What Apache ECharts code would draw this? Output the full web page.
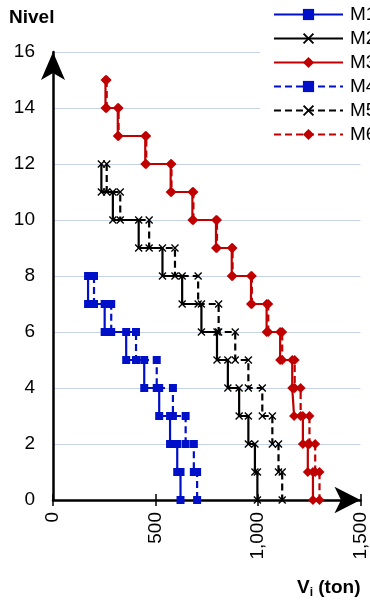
<!DOCTYPE html>
<html>
<head>
<meta charset="utf-8">
<script src="https://cdn.jsdelivr.net/npm/echarts@6/dist/echarts.min.js"></script>
<style>
html,body{margin:0;padding:0;background:#fff;}
#chart{width:370px;height:602px;}
</style>
</head>
<body>
<div id="chart"></div>
<script>
// Story shear V_i (ton), listed from level 1 (bottom) upwards
const seriesNames = ['M1', 'M2', 'M3', 'M4', 'M5', 'M6'];
const m1 = [622, 606, 571, 518, 445, 357, 252, 171];
const m2 = [997, 985, 953, 908, 853, 800, 724, 630, 534, 418, 292, 236];
const m3 = [1268, 1243, 1219, 1176, 1167, 1108, 1042, 966, 872, 795, 680, 574, 450, 316, 256];
const m4 = [703, 687, 647, 585, 506, 405, 284, 200];
const m5 = [1118, 1100, 1070, 1021, 953, 889, 808, 708, 595, 469, 328, 262];
const m6 = [1300, 1279, 1251, 1208, 1179, 1118, 1050, 970, 876, 800, 685, 578, 455, 320, 262];
const xTicks = [0, 500, 1000, 1500];
const yTicks = [0, 2, 4, 6, 8, 10, 12, 14, 16];

function stepPoints(v) {
  const pts = [];
  for (let k = v.length; k >= 1; k--) {
    pts.push([v[k - 1], k]);
    pts.push([v[k - 1], k - 1]);
  }
  return pts;
}

const BLUE = '#0010c8', BLACK = '#000000', RED = '#c00000';
const CROSS = 'path://M0,1.2L1.2,0L5,3.8L8.8,0L10,1.2L6.2,5L10,8.8L8.8,10L5,6.2L1.2,10L0,8.8L3.8,5Z';
const styles = [
  {data: m1, color: BLUE, symbol: 'rect', size: 8, dash: 'solid'},
  {data: m2, color: BLACK, symbol: CROSS, size: 8, dash: 'solid'},
  {data: m3, color: RED, symbol: 'diamond', size: 10, dash: 'solid'},
  {data: m4, color: BLUE, symbol: 'rect', size: 8, dash: [7, 4]},
  {data: m5, color: BLACK, symbol: CROSS, size: 8, dash: [7, 4]},
  {data: m6, color: RED, symbol: 'diamond', size: 10, dash: [7, 4]}
];

const FONT = 'Liberation Sans, Arial, sans-serif';
const chart = echarts.init(document.getElementById('chart'), null, {renderer: 'canvas'});

const series = styles.map((s, i) => ({
  name: seriesNames[i],
  type: 'line',
  data: stepPoints(s.data),
  symbol: s.symbol,
  symbolSize: s.size,
  showAllSymbol: true,
  animation: false,
  itemStyle: {color: s.color},
  lineStyle: {color: s.color, width: 2.2, type: s.dash},
  z: 3
}));

const option = {
  animation: false,
  backgroundColor: '#fff',
  grid: {left: 53, right: 7, top: 52, bottom: 102, containLabel: false},
  xAxis: [{
    type: 'value', min: 0, max: 1500, interval: 500,
    axisLine: {show: true, lineStyle: {color: '#000', width: 2.5}, symbol: ['none', 'arrow'], symbolSize: [20, 26], symbolOffset: [0, 0]},
    axisTick: {show: true, length: 6, lineStyle: {color: '#000', width: 1.5}},
    axisLabel: {rotate: 90, margin: 12, fontSize: 19, color: '#000', fontFamily: FONT,
      formatter: v => xTicks.indexOf(v) >= 0 ? v.toLocaleString('en-US') : ''},
    splitLine: {show: false}
  }, {
    type: 'value', min: 0, max: 1500, interval: 500, position: 'bottom',
    axisLine: {show: false},
    axisTick: {show: true, inside: true, length: 6, lineStyle: {color: '#000', width: 1.5}},
    axisLabel: {show: false},
    splitLine: {show: false}
  }],
  yAxis: {
    type: 'value', min: 0, max: 16, interval: 2,
    axisLine: {show: true, lineStyle: {color: '#000', width: 2.5}, symbol: ['none', 'arrow'], symbolSize: [18, 28], symbolOffset: [0, 0]},
    axisTick: {show: false},
    axisLabel: {margin: 18, fontSize: 19, color: '#000', fontFamily: FONT,
      formatter: v => yTicks.indexOf(v) >= 0 ? String(v) : ''},
    splitLine: {show: true, lineStyle: {color: '#c6d2e6', width: 1}}
  },
  legend: {
    orient: 'vertical', left: 260, top: 0,
    backgroundColor: '#fff',
    padding: [5, 0, 12, 13],
    itemWidth: 69, itemHeight: 14, itemGap: 5,
    textStyle: {fontSize: 19, color: '#000', fontFamily: FONT, lineHeight: 14, padding: [0, 0, 0, 2]},
    data: seriesNames,
    z: 10
  },
  graphic: [
    {type: 'text', left: 9, top: 8, style: {text: 'Nivel', font: 'bold 19px ' + FONT, fill: '#000'}},
    {type: 'text', left: 297, top: 578, style: {
      text: '{b|V}{s|i}{b| (ton)}', fill: '#000',
      rich: {b: {font: 'bold 19px ' + FONT, fill: '#000'}, s: {font: 'bold 12px ' + FONT, fill: '#000', padding: [10, 0, 0, 0]}}
    }}
  ],
  series: series
};
chart.setOption(option);
</script>
</body>
</html>
